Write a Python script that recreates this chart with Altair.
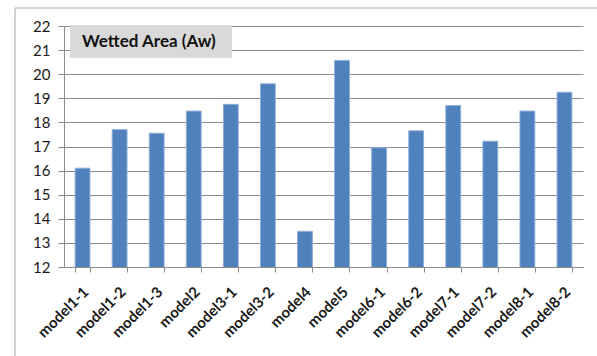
import altair as alt
import pandas as pd

models = ["model1-1", "model1-2", "model1-3", "model2", "model3-1", "model3-2",
          "model4", "model5", "model6-1", "model6-2", "model7-1", "model7-2",
          "model8-1", "model8-2"]
wetted_area = [16.1, 17.7, 17.55, 18.47, 18.75, 19.6, 13.48, 20.57,
               16.95, 17.65, 18.7, 17.22, 18.47, 19.25]
y_ticks = list(range(12, 23))
title_text = ["Wetted Area (Aw)"]

df = pd.DataFrame({"model": models, "aw": wetted_area})

W, H = 519, 241
FONT = "Lato"
GRID = "#8c8c8c"

bars = alt.Chart(df).mark_bar(
    color="#4f81bd", stroke="#8eaed6", strokeWidth=1, clip=True
).encode(
    x=alt.X("model:N", sort=models, title=None,
            scale=alt.Scale(paddingInner=0.6, paddingOuter=0.3),
            axis=alt.Axis(labelAngle=315, labelAlign="right", labelBaseline="middle",
                          labelFont=FONT, labelFontSize=15, labelFontWeight="bold",
                          labelColor="#1a1a1a", labelPadding=17, labelOffset=3,
                          tickBand="extent", tickSize=5, tickColor=GRID,
                          domainColor=GRID, grid=False)),
    y=alt.Y("aw:Q", title=None,
            scale=alt.Scale(domain=[12, 22], nice=False, zero=False),
            axis=alt.Axis(values=y_ticks, labelFont=FONT, labelFontSize=15,
                          labelColor="#1a1a1a", labelPadding=8,
                          tickSize=6, tickColor=GRID, domainColor=GRID,
                          gridColor=GRID, gridWidth=1)),
)

# title box in the upper-left of the plot area
box_df = pd.DataFrame({"t": title_text})
box = alt.Chart(box_df).mark_rect(color="#d9d9d9").encode(
    x=alt.value(6), x2=alt.value(168), y=alt.value(-1), y2=alt.value(32)
)
label = alt.Chart(box_df).mark_text(
    font=FONT, fontSize=17, fontWeight="bold", color="#111111",
    align="left", baseline="middle"
).encode(x=alt.value(18), y=alt.value(16), text="t:N")

# outer frame lines (left and top edges)
frame_left = alt.Chart(box_df).mark_rule(color="#a6a6a6", strokeWidth=1, clip=False).encode(
    x=alt.value(-49), y=alt.value(-18), y2=alt.value(H + 100)
)
frame_top = alt.Chart(box_df).mark_rule(color="#a6a6a6", strokeWidth=1, clip=False).encode(
    x=alt.value(-49), x2=alt.value(W + 20), y=alt.value(-18)
)

chart = alt.layer(frame_left, frame_top, bars, box, label).properties(
    width=W, height=H,
    padding={"left": 64, "top": 26, "right": 14, "bottom": 89},
    autosize=alt.AutoSizeParams(type="none"),
    background="white",
).configure_view(stroke=None)

chart.save("out.html", embed_options={"renderer": "svg", "actions": False})
